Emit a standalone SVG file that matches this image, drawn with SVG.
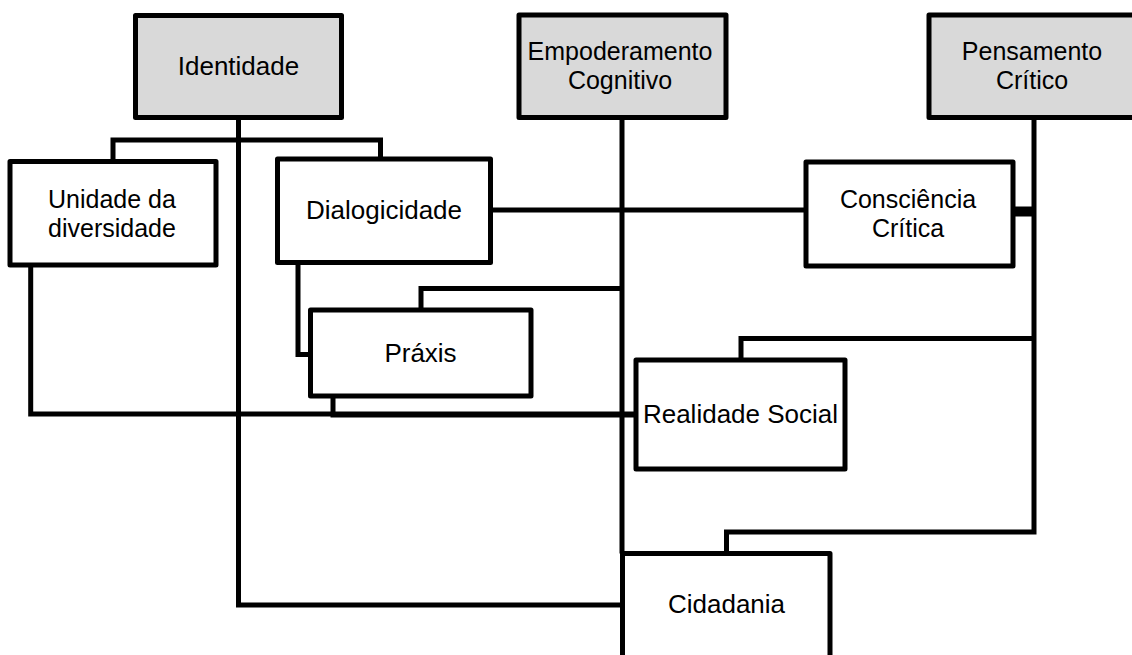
<svg xmlns="http://www.w3.org/2000/svg" width="1132" height="655" viewBox="0 0 1132 655">
  <style>
    .box { fill: #ffffff; stroke: #000000; stroke-width: 5; stroke-linejoin: round; }
    .top { fill: #d9d9d9; }
    .conn { fill: none; stroke: #000000; stroke-width: 5; stroke-linejoin: miter; stroke-linecap: butt; }
    .lbl { font-family: "Liberation Sans", Arial, sans-serif; font-size: 26px; fill: #000000; text-anchor: middle; }
    .two { font-size: 25px; }
  </style>
  <rect width="1132" height="655" fill="#ffffff"/>
  <g id="connectors">
    <path class="conn" d="M113,161.5 V140 H380.5 V159"/>
    <path class="conn" d="M238.5,117.5 V605 H622.5"/>
    <path class="conn" d="M30.7,265 V414 H636"/>
    <path class="conn" d="M298,262.5 V354.5 H310.5"/>
    <path class="conn" d="M490.5,210 H806"/>
    <path class="conn" d="M421,310 V288.5 H622"/>
    <path class="conn" d="M333,396 V415 H636"/>
    <path class="conn" d="M622,117.5 V553.5"/>
    <path class="conn" d="M1013,211.5 H1034" style="stroke-width:10"/>
    <path class="conn" d="M1034,117.5 V532 H726.5 V553.5"/>
    <path class="conn" d="M1034,338.5 H741 V360"/>
  </g>
  <g id="identidade">
    <rect class="box top" x="135.5" y="15.5" width="206" height="102"/>
    <text class="lbl" x="238.5" y="75">Identidade</text>
  </g>
  <g id="empoderamento">
    <rect class="box top" x="519" y="15" width="207" height="102.5"/>
    <text class="lbl two" x="620" y="60">Empoderamento</text>
    <text class="lbl two" x="620" y="88.5">Cognitivo</text>
  </g>
  <g id="pensamento">
    <rect class="box top" x="929" y="15" width="206" height="102.5"/>
    <text class="lbl two" x="1032" y="60">Pensamento</text>
    <text class="lbl two" x="1032" y="88.5">Crítico</text>
  </g>
  <g id="unidade">
    <rect class="box" x="10" y="161.5" width="206" height="103.5"/>
    <text class="lbl two" x="112" y="208">Unidade da</text>
    <text class="lbl two" x="112" y="236.5">diversidade</text>
  </g>
  <g id="dialogicidade">
    <rect class="box" x="277.5" y="159" width="213" height="103.5"/>
    <text class="lbl" x="384" y="219">Dialogicidade</text>
  </g>
  <g id="consciencia">
    <rect class="box" x="806" y="162" width="207" height="104"/>
    <text class="lbl two" x="908" y="208">Consciência</text>
    <text class="lbl two" x="908" y="236.5">Crítica</text>
  </g>
  <g id="praxis">
    <rect class="box" x="310.5" y="310" width="220.5" height="86"/>
    <text class="lbl" x="420.5" y="362">Práxis</text>
  </g>
  <g id="realidade">
    <rect class="box" x="636" y="360" width="209" height="109"/>
    <text class="lbl" x="740.5" y="423">Realidade Social</text>
  </g>
  <g id="cidadania">
    <rect class="box" x="622.5" y="553.5" width="207.5" height="110"/>
    <text class="lbl" x="726.5" y="613">Cidadania</text>
  </g>
</svg>
